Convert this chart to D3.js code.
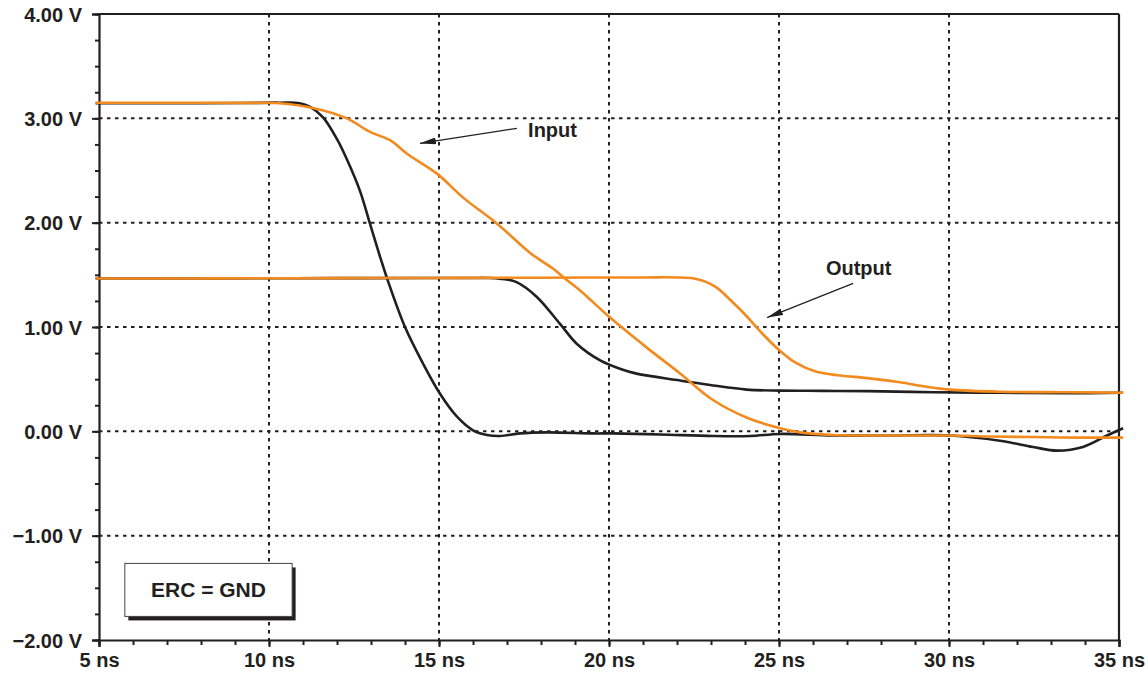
<!DOCTYPE html>
<html>
<head>
<meta charset="utf-8">
<script src="https://cdn.jsdelivr.net/npm/d3@7"></script>
<style>
  html, body { margin: 0; padding: 0; background: #fff; }
  svg text { font-family: "Liberation Sans", Arial, sans-serif; font-weight: bold; fill: #231f20; }
</style>
</head>
<body>
<svg id="chart" width="1148" height="681"></svg>
<script>
// ---- data (time in ns, voltage in V) ----
const blackFast = [
  [4.9,3.145],[6.5,3.145],[8.0,3.145],[9.3,3.147],[10.3,3.15],[10.9,3.145],[11.21,3.11],[11.59,3.01],
  [12.0,2.80],[12.3,2.60],[12.68,2.30],[12.97,1.99],[13.26,1.68],[13.5,1.44],[14.0,1.00],[14.53,0.65],
  [15.03,0.36],[15.53,0.14],[16.0,0.01],[16.41,-0.035],[16.79,-0.045],[17.38,-0.02],[18.18,-0.01],
  [19.53,-0.02],[20.12,-0.02],[21.5,-0.03],[23.06,-0.045],[24.15,-0.045],[25.03,-0.025],[26.59,-0.04],
  [28.3,-0.04],[30.03,-0.04],[31.5,-0.09],[32.47,-0.15],[33.18,-0.185],[33.94,-0.15],[34.65,-0.04],[35.12,0.03]
];
const blackSlow = [
  [4.9,1.465],[7.0,1.465],[9.5,1.467],[12.0,1.468],[14.5,1.47],[16.0,1.47],[16.4,1.47],[16.79,1.463],
  [17.28,1.43],[17.87,1.29],[18.56,1.03],[19.05,0.84],[19.74,0.68],[20.32,0.60],[20.81,0.553],
  [22.09,0.488],[23.06,0.44],[24.05,0.40],[25.03,0.39],[26.3,0.388],[27.59,0.385],[29.53,0.375],
  [31.5,0.37],[33.47,0.365],[35.12,0.37]
];
const orangeInput = [
  [4.9,3.15],[6.5,3.15],[8.0,3.15],[9.3,3.148],[10.3,3.145],[11.29,3.10],[12.29,3.0],[12.97,2.87],
  [13.56,2.79],[14.06,2.66],[14.94,2.47],[15.71,2.24],[16.71,1.99],[17.68,1.71],[18.35,1.56],
  [18.76,1.45],[19.15,1.35],[20.03,1.09],[21.12,0.80],[22.09,0.555],[23.06,0.30],[24.06,0.13],
  [25.03,0.03],[25.62,-0.01],[26.6,-0.035],[27.59,-0.04],[28.8,-0.04],[30.03,-0.04],[31.2,-0.05],
  [32.47,-0.055],[33.8,-0.06],[35.12,-0.06]
];
const orangeOutput = [
  [4.9,1.465],[7.0,1.465],[9.5,1.467],[12.0,1.468],[14.5,1.47],[17.0,1.472],[19.5,1.474],
  [21.0,1.475],[22.0,1.475],[22.5,1.465],[22.87,1.43],[23.2,1.37],[23.5,1.28],[24.0,1.12],
  [24.5,0.94],[25.0,0.78],[25.5,0.655],[26.1,0.57],[26.8,0.535],[27.6,0.51],[28.56,0.47],
  [29.3,0.43],[30.03,0.40],[31.5,0.38],[33.47,0.375],[35.12,0.37]
];
const xTicks = [5,10,15,20,25,30,35];
const xTickLabels = ["5 ns","10 ns","15 ns","20 ns","25 ns","30 ns","35 ns"];
const yTicks = [4,3,2,1,0,-1,-2];
const yTickLabels = ["4.00 V","3.00 V","2.00 V","1.00 V","0.00 V","\u22121.00 V","\u22122.00 V"];
const annotations = [
  {text:"Input",  tx:17.62, ty:2.82,  x1:17.29, y1:2.904, x2:14.44, y2:2.76},
  {text:"Output", tx:26.38, ty:1.495, x1:27.18, y1:1.418, x2:24.65, y2:1.09}
];
const noteBox = {text:"ERC = GND", x0:5.76, x1:10.68, y0:-1.266, y1:-1.774};

// ---- layout ----
const W = 1148, H = 681;
const m = {left:99, top:14, right:29, bottom:41};
const black = "#231f20", orange = "#f28a1e";
const svg = d3.select("#chart");
const x = d3.scaleLinear().domain([5,35]).range([m.left, W - m.right]);
const y = d3.scaleLinear().domain([-2,4]).range([H - m.bottom, m.top]);

// grid (dotted)
const grid = svg.append("g");
grid.selectAll("line.gx").data(xTicks.filter(d => d > 5 && d < 35)).join("line")
  .attr("x1", d => x(d)).attr("x2", d => x(d)).attr("y1", y(4)).attr("y2", y(-2))
  .attr("stroke", black).attr("stroke-width", 2).attr("stroke-dasharray", "3.5,4.5");
grid.selectAll("line.gy").data(yTicks.filter(d => d > -2 && d < 4)).join("line")
  .attr("y1", d => y(d)).attr("y2", d => y(d)).attr("x1", x(5)).attr("x2", x(35))
  .attr("stroke", black).attr("stroke-width", 2).attr("stroke-dasharray", "3.5,4.5");

// frame: top and right borders
svg.append("line").attr("x1", x(5)).attr("x2", x(35)).attr("y1", y(4)).attr("y2", y(4))
  .attr("stroke", black).attr("stroke-width", 2.2);
svg.append("line").attr("x1", x(35)).attr("x2", x(35)).attr("y1", y(4)).attr("y2", y(-2))
  .attr("stroke", black).attr("stroke-width", 2.2);

// axes with minor ticks
const yMinor = d3.range(-2, 4.001, 0.25);
svg.append("g").attr("transform", `translate(${m.left},0)`)
  .call(d3.axisLeft(y).tickValues(yMinor).tickSize(4).tickFormat(""))
  .call(g => g.selectAll("line").attr("stroke", black).attr("stroke-width", 2))
  .call(g => g.select(".domain").remove());
svg.append("g").attr("transform", `translate(${m.left},0)`)
  .call(d3.axisLeft(y).tickValues(yTicks).tickSize(7).tickPadding(10)
    .tickFormat((d,i) => yTickLabels[i]))
  .call(g => g.select(".domain").attr("stroke", black).attr("stroke-width", 2.2))
  .call(g => g.selectAll("line").attr("stroke", black).attr("stroke-width", 2))
  .call(g => g.selectAll("text").attr("font-size", 20).attr("font-family", null)
     .attr("fill", black).attr("dy", "0.36em"));

const xMinor = d3.range(5, 35.001, 1);
svg.append("g").attr("transform", `translate(0,${H - m.bottom})`)
  .call(d3.axisBottom(x).tickValues(xMinor).tickSize(5).tickFormat(""))
  .call(g => g.selectAll("line").attr("stroke", black).attr("stroke-width", 2))
  .call(g => g.select(".domain").remove());
svg.append("g").attr("transform", `translate(0,${H - m.bottom})`)
  .call(d3.axisBottom(x).tickValues(xTicks).tickSize(7).tickPadding(6)
    .tickFormat((d,i) => xTickLabels[i]))
  .call(g => g.select(".domain").attr("stroke", black).attr("stroke-width", 2.2))
  .call(g => g.selectAll("line").attr("stroke", black).attr("stroke-width", 2))
  .call(g => g.selectAll("text").attr("font-size", 20).attr("font-family", null).attr("fill", black));

// curves
const line = d3.line().x(d => x(d[0])).y(d => y(d[1])).curve(d3.curveCatmullRom.alpha(0.5));
const series = [
  {data: blackFast, color: black},
  {data: blackSlow, color: black},
  {data: orangeInput, color: orange},
  {data: orangeOutput, color: orange}
];
svg.append("g").selectAll("path").data(series).join("path")
  .attr("d", d => line(d.data)).attr("fill", "none")
  .attr("stroke", d => d.color).attr("stroke-width", 2.6).attr("stroke-linejoin", "round");

// annotations
svg.append("defs").append("marker").attr("id", "arr")
  .attr("viewBox", "0 0 10 10").attr("refX", 10).attr("refY", 5)
  .attr("markerWidth", 16).attr("markerHeight", 7).attr("markerUnits", "userSpaceOnUse")
  .attr("orient", "auto").attr("preserveAspectRatio", "none")
  .append("path").attr("d", "M0,0 L10,5 L0,10 z").attr("fill", black);
const ann = svg.append("g");
annotations.forEach(a => {
  ann.append("line").attr("x1", x(a.x1)).attr("y1", y(a.y1)).attr("x2", x(a.x2)).attr("y2", y(a.y2))
    .attr("stroke", black).attr("stroke-width", 1.2).attr("marker-end", "url(#arr)");
  ann.append("text").attr("x", x(a.tx)).attr("y", y(a.ty)).attr("font-size", 20).text(a.text);
});

// note box with shadow
const bx = x(noteBox.x0), by = y(noteBox.y0), bw = x(noteBox.x1) - x(noteBox.x0), bh = y(noteBox.y1) - y(noteBox.y0);
svg.append("rect").attr("x", bx + 3.5).attr("y", by + 4).attr("width", bw).attr("height", bh).attr("fill", black);
svg.append("rect").attr("x", bx).attr("y", by).attr("width", bw).attr("height", bh)
  .attr("fill", "#fff").attr("stroke", "#444").attr("stroke-width", 1);
svg.append("text").attr("x", bx + bw / 2).attr("y", by + bh / 2 + 7.5)
  .attr("text-anchor", "middle").attr("font-size", 21).text(noteBox.text);
</script>
</body>
</html>
